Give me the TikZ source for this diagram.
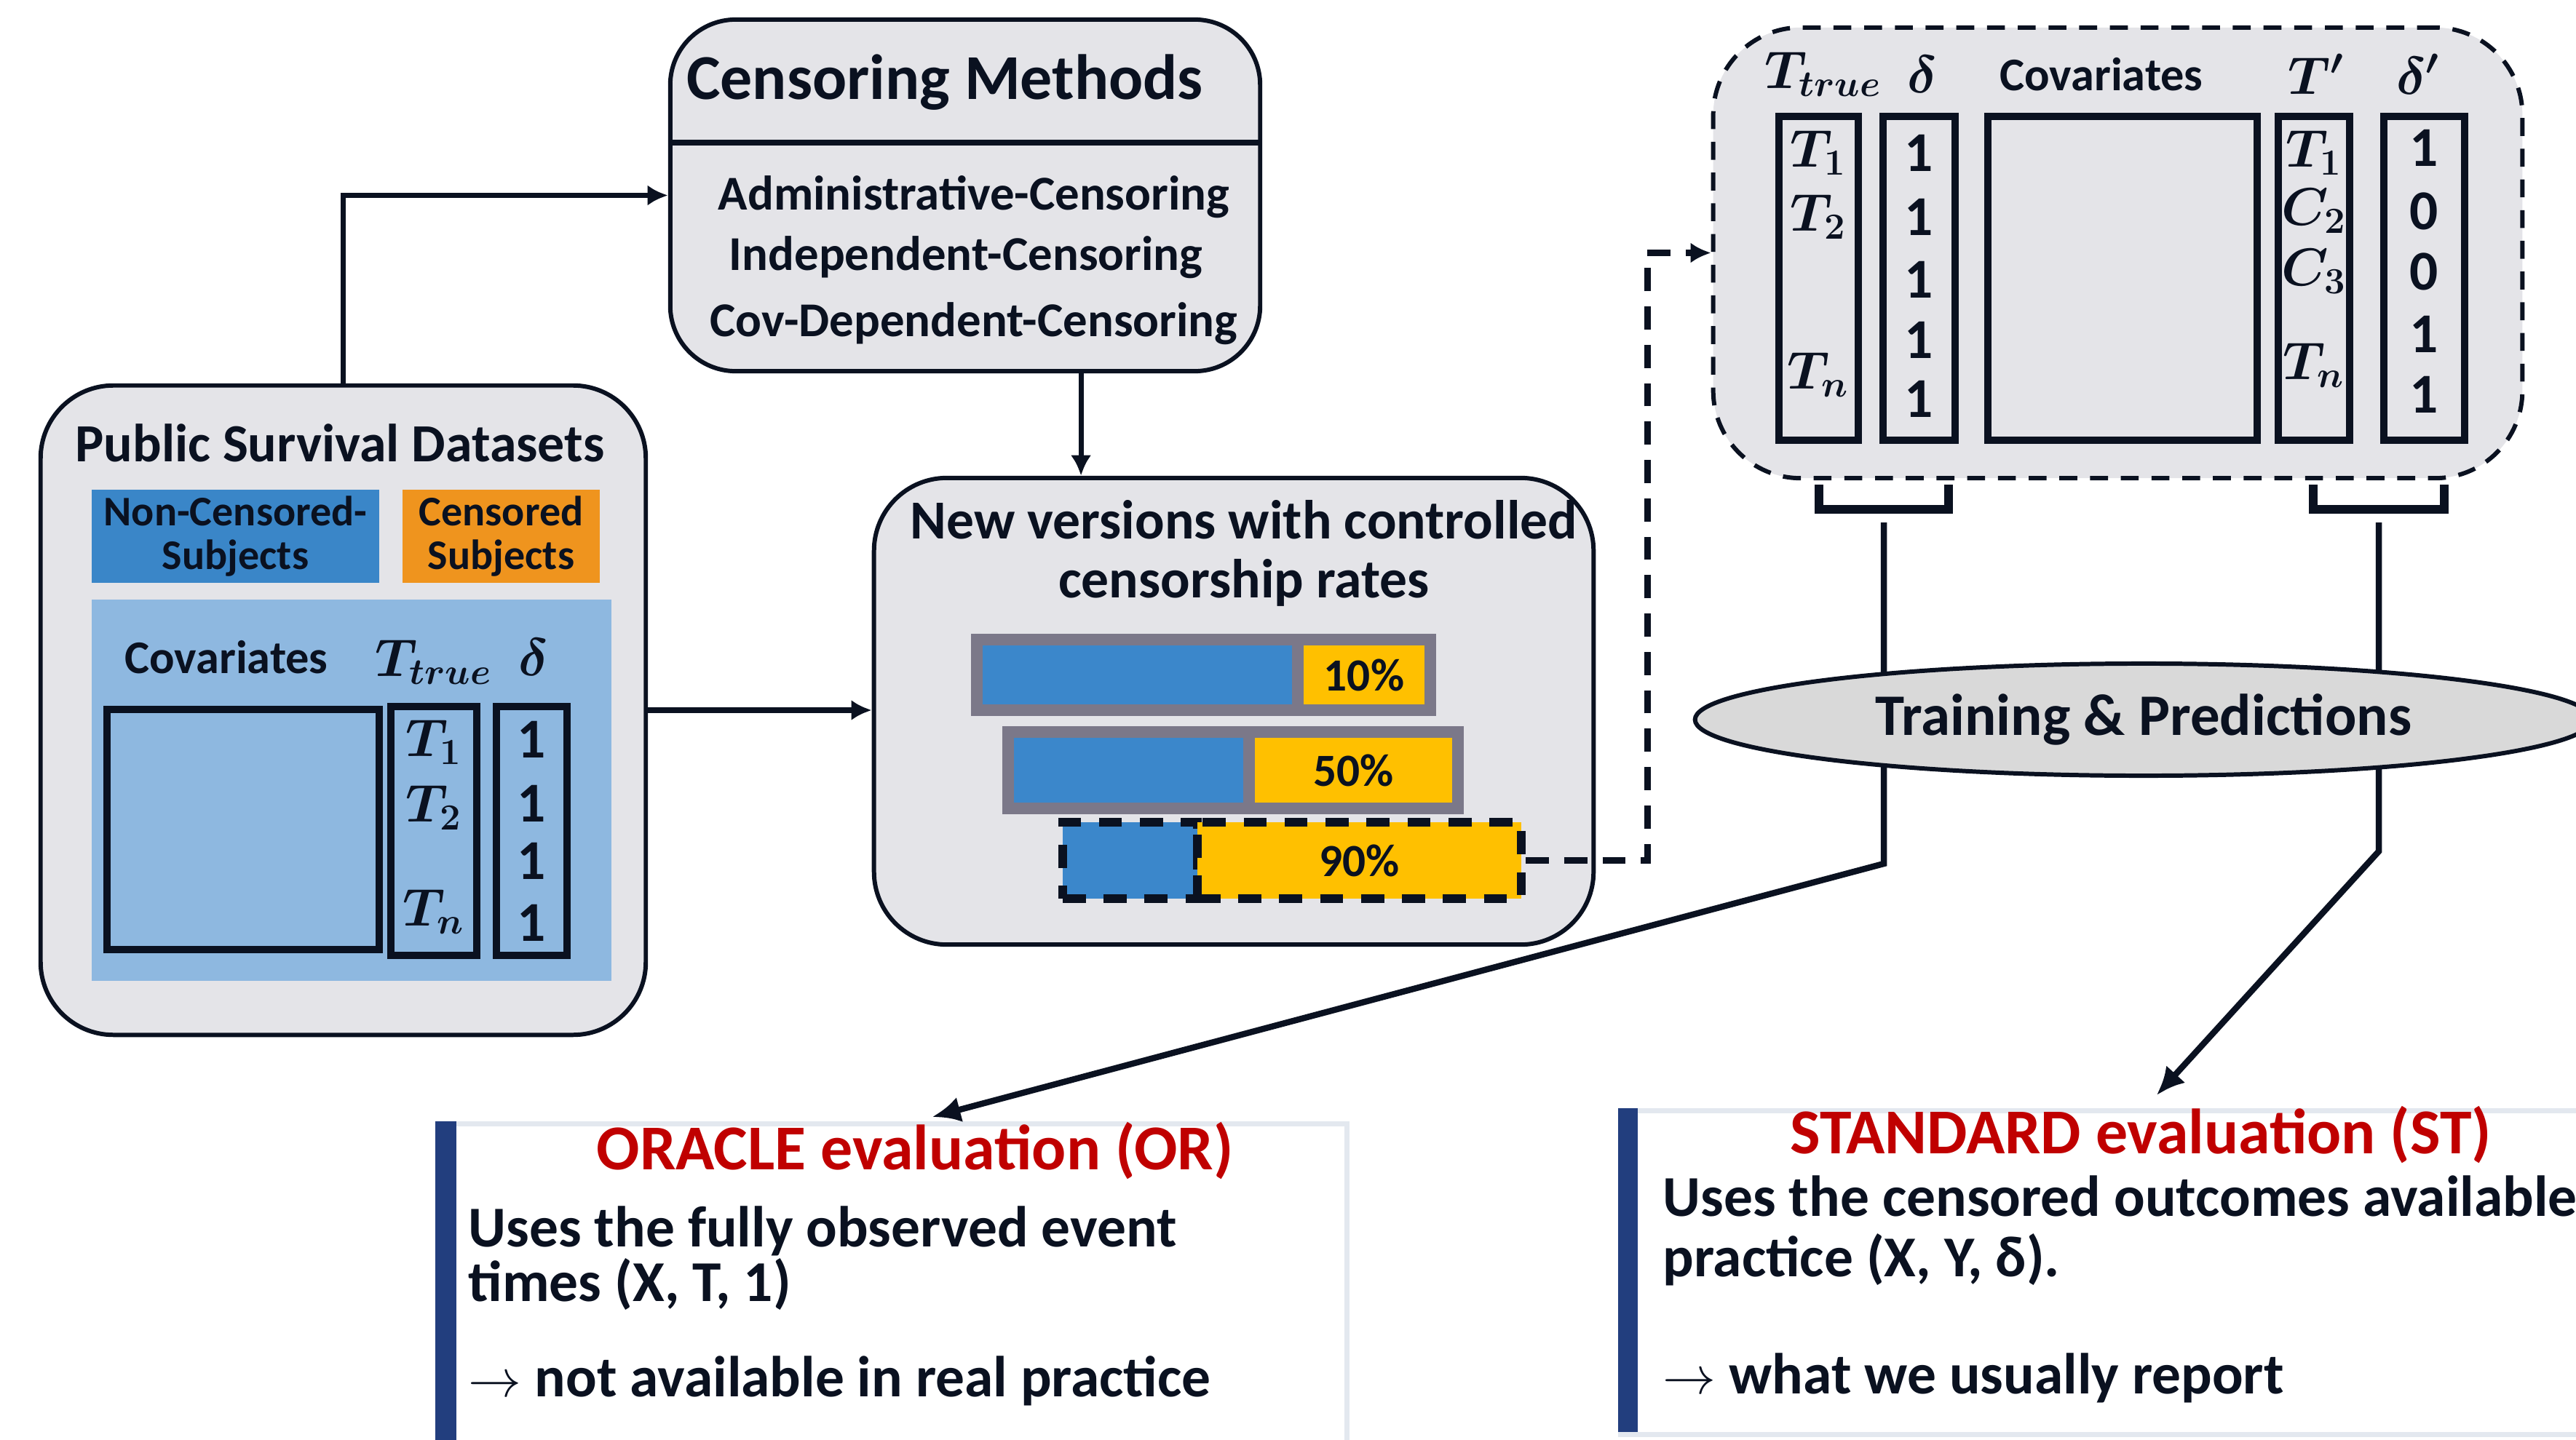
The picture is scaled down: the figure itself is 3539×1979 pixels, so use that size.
\documentclass[tikz,border=0pt]{standalone}
\usepackage{amsmath}
\usepackage{fontspec}
\setmainfont{Carlito}
\usetikzlibrary{shapes.geometric, arrows.meta, positioning, calc}

\definecolor{ink}{RGB}{10,17,32}
\definecolor{boxgray}{RGB}{228,228,232}
\definecolor{ncblue}{RGB}{58,134,200}
\definecolor{cenorange}{RGB}{239,148,30}
\definecolor{areablue}{RGB}{142,184,224}
\definecolor{barblue}{RGB}{59,135,203}
\definecolor{baryellow}{RGB}{255,192,0}
\definecolor{bargray}{RGB}{123,120,137}
\definecolor{ellgray}{RGB}{217,217,217}
\definecolor{evalred}{RGB}{192,0,0}
\definecolor{evalbar}{RGB}{34,62,126}
\definecolor{evaledge}{RGB}{227,232,239}

\tikzset{
  panel/.style={draw=ink, line width=1.7pt, fill=boxgray, rounded corners=1cm},
  col/.style={draw=ink, line width=2.6pt},
  conn/.style={draw=ink, line width=2pt, -{Latex[length=8pt,width=8pt]}},
  evalarrow/.style={draw=ink, line width=2.4pt, -{Latex[length=11pt,width=10pt]}},
  brk/.style={draw=ink, line width=3.4pt},
  barpart/.style={draw=bargray, line width=4.5pt, minimum height=0.97cm},
  bar90/.style={draw=ink, line width=3.4pt, dash pattern=on 9pt off 7pt, minimum height=1.05cm},
  evalbox/.style={draw=evaledge, line width=2pt, fill=white, anchor=north west},
  bigtitle/.style={font=\fontsize{25}{28}\selectfont\bfseries},
  subtitle/.style={font=\fontsize{21}{23}\selectfont\bfseries},
  label/.style={font=\fontsize{18.3}{20}\selectfont\bfseries},
  num/.style={font=\fontsize{22}{24}\selectfont\bfseries},
  sym/.style={font=\fontsize{22}{24}\selectfont\boldmath},
  body/.style={font=\fontsize{22.6}{19.5}\selectfont\bfseries, align=left, anchor=west}
}

\begin{document}
\begin{tikzpicture}[x=0.01cm, y=-0.01cm, every node/.style={inner sep=0pt, text=ink}]
\useasboundingbox (0,0) rectangle (3539,1979);
\clip (0,0) rectangle (3539,1979);

% Evaluation boxes
\node[evalbox, minimum width=12.48cm, minimum height=5cm] (oracle) at (598,1541) {};
\fill[evalbar] (598,1541) rectangle (627,2050);
\node[bigtitle, text=evalred] (ortitle) at (1257,1582) {ORACLE evaluation (OR)};
\node[body] (ortext) at (643,1729) {Uses the fully observed event\\times (X, T, 1)};
\node[body] (ornote) at (643,1898) {$\rightarrow$ not available in real practice};

\node[evalbox, minimum width=14cm, minimum height=4.45cm] (standard) at (2223,1523) {};
\fill[evalbar] (2223,1523) rectangle (2250,1968);
\node[bigtitle, text=evalred] (sttitle) at (2941,1560) {STANDARD evaluation (ST)};
\node[body, font=\fontsize{22.6}{23.6}\selectfont\bfseries] (sttext) at (2284,1691) {Uses the censored outcomes available in\\practice (X, Y, δ).};
\node[body] (stnote) at (2284,1894) {$\rightarrow$ what we usually report};

% Public Survival Datasets
\node[panel, minimum width=8.31cm, minimum height=8.92cm] (pub) at (471.5,976) {};
\node[subtitle] (pubtitle) at (467,609) {Public Survival Datasets};
\node[fill=ncblue, minimum width=3.95cm, minimum height=1.28cm, align=center,
      font=\fontsize{16.5}{17}\selectfont\bfseries] (ncs) at (323.5,737) {Non-Censored-\\Subjects};
\node[fill=cenorange, minimum width=2.71cm, minimum height=1.28cm, align=center,
      font=\fontsize{16.5}{17}\selectfont\bfseries] (cs) at (688.5,737) {Censored\\Subjects};
\fill[areablue] (126,824) rectangle (840,1348);
\node[label] (pubcov) at (311,903) {Covariates};
\node[sym] (pubtt) at (596,910) {$T_{true}$};
\node[sym] (pubd) at (733,903) {$\delta$};
\draw[col] (147,975) rectangle (521,1305);
\draw[col] (537,971) rectangle (655,1313);
\draw[col] (682,971) rectangle (779,1313);
\node[sym] (pt1) at (596,1020) {$T_1$};
\node[sym] (pt2) at (596,1110) {$T_2$};
\node[sym] (ptn) at (596,1253) {$T_n$};
\node[num] (pd1) at (730,1016) {1};
\node[num] (pd2) at (730,1104) {1};
\node[num] (pd3) at (730,1183) {1};
\node[num] (pd4) at (730,1268) {1};

% Censoring Methods
\node[panel, rounded corners=0.9cm, minimum width=8.10cm, minimum height=4.83cm] (cens) at (1326,268.5) {};
\draw[ink, line width=2.4pt] (cens.west |- 0,196) -- (cens.east |- 0,196);
\node[bigtitle] (censtitle) at (1298,113) {Censoring Methods};
\node[font=\fontsize{19}{21}\selectfont\bfseries] (adm) at (1338,271) {Administrative-Censoring};
\node[font=\fontsize{19}{21}\selectfont\bfseries] (ind) at (1327,354) {Independent-Censoring};
\node[font=\fontsize{19}{21}\selectfont\bfseries] (cov) at (1338,445) {Cov-Dependent-Censoring};

% New versions
\node[panel, minimum width=9.88cm, minimum height=6.41cm] (newv) at (1695,977.5) {};
\node[font=\fontsize{21.5}{23}\selectfont\bfseries, align=center] (newtitle) at (1709,760) {New versions with controlled\\censorship rates};
\node[barpart, fill=barblue, minimum width=4.41cm] (b10) at (1562.5,927.5) {};
\node[barpart, fill=baryellow, minimum width=1.82cm, font=\fontsize{18}{20}\selectfont\bfseries] (y10) at (1874,927.5) {10\%};
\node[barpart, fill=barblue, minimum width=3.31cm, minimum height=1.05cm] (b50) at (1550.5,1058.5) {};
\node[barpart, fill=baryellow, minimum width=2.87cm, minimum height=1.05cm, font=\fontsize{18}{20}\selectfont\bfseries] (y50) at (1859.5,1058.5) {50\%};
\node[bar90, fill=barblue, minimum width=1.85cm] (b90) at (1552.5,1182.5) {};
\node[bar90, fill=baryellow, minimum width=4.45cm, font=\fontsize{18}{20}\selectfont\bfseries] (y90) at (1867.5,1182.5) {90\%};

% Result table
\node[panel, dashed, dash pattern=on 7pt off 5pt, rounded corners=1.2cm, minimum width=11.11cm, minimum height=6.19cm] (res) at (2909.5,347.5) {};
\node[sym] (rtt) at (2505,102) {$T_{true}$};
\node[sym] (rd) at (2641,102) {$\delta$};
\node[label] (rcov) at (2887,102) {Covariates};
\node[sym] (rtp) at (3182,102) {$T'$};
\node[sym] (rdp) at (3322,102) {$\delta'$};
\draw[col] (2444,160) rectangle (2553,605);
\draw[col] (2587,160) rectangle (2686,605);
\draw[col] (2731,160) rectangle (3101,605);
\draw[col] (3130,160) rectangle (3228,605);
\draw[col] (3275,160) rectangle (3386,605);
\node[sym] (rt1) at (2498,210) {$T_1$};
\node[sym] (rt2) at (2498,298) {$T_2$};
\node[sym] (rtn) at (2498,515) {$T_n$};
\node[num] (rd1) at (2636,210) {1};
\node[num] (rd2) at (2636,298) {1};
\node[num] (rd3) at (2636,384) {1};
\node[num] (rd4) at (2636,467) {1};
\node[num] (rd5) at (2636,548) {1};
\node[sym] (rp1) at (3179,210) {$T_1$};
\node[sym] (rp2) at (3179,290) {$C_2$};
\node[sym] (rp3) at (3179,373) {$C_3$};
\node[sym] (rpn) at (3179,502) {$T_n$};
\node[num] (rq1) at (3330,203) {1};
\node[num] (rq2) at (3330,290) {0};
\node[num] (rq3) at (3330,373) {0};
\node[num] (rq4) at (3330,459) {1};
\node[num] (rq5) at (3330,542) {1};

% Brackets under the table
\draw[brk] (2499,666) -- (2499,700) -- (2677,700) -- (2677,666);
\draw[brk] (3178,666) -- (3178,700) -- (3358,700) -- (3358,666);
\coordinate (lb) at (2588,718);
\coordinate (rb) at (3268,718);

% Connectors
\draw[conn] (pub.north) |- (cens.west);
\draw[conn] ([xshift=1.59cm]cens.south) -- ([xshift=1.59cm]cens.south |- newv.north);
\draw[conn] (pub.east) -- (pub.east -| newv.west);
\draw[conn, line width=2.6pt, dash pattern=on 9pt off 6pt] (y90.east) -- ++(167,0) |- (res.west);
\draw[evalarrow] (lb) -- (2588,1187) -- ($(oracle.north)+(55,-6)$);
\draw[evalarrow] (rb) -- (3268,1170) -- ($(standard.north)+(36,-18)$);

% Training
\node[ellipse, draw=ink, line width=1.7pt, fill=ellgray, minimum width=12.32cm, minimum height=1.54cm,
      font=\fontsize{23}{26}\selectfont\bfseries] (train) at (2945,989) {Training \& Predictions};
\end{tikzpicture}
\end{document}
